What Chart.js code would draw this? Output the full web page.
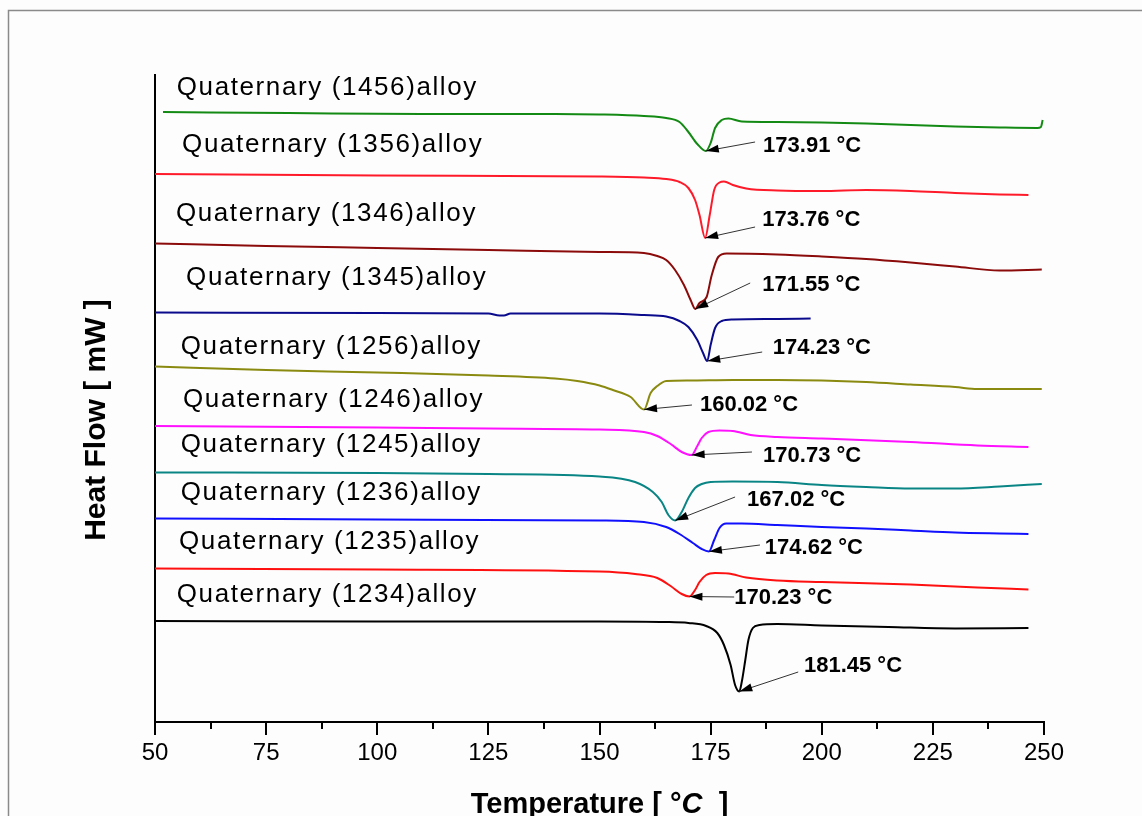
<!DOCTYPE html>
<html>
<head>
<meta charset="utf-8">
<title>DSC curves</title>
<script src="https://cdn.jsdelivr.net/npm/chart.js@4.4.1/dist/chart.umd.min.js"></script>
<style>
  html, body { margin: 0; padding: 0; background: #fff; }
  #wrap { width: 1142px; height: 816px; }
</style>
</head>
<body>
<div id="wrap"><canvas id="dsc"></canvas></div>
<script>
// alloy names, top trace first
const alloys = ['Quaternary (1456)alloy', 'Quaternary (1356)alloy', 'Quaternary (1346)alloy',
  'Quaternary (1345)alloy', 'Quaternary (1256)alloy', 'Quaternary (1246)alloy',
  'Quaternary (1245)alloy', 'Quaternary (1236)alloy', 'Quaternary (1235)alloy', 'Quaternary (1234)alloy'];
const peakTemps = [173.91, 173.76, 171.55, 174.23, 160.02, 170.73, 167.02, 174.62, 170.23, 181.45];
const colors = ['#138a13', '#ff1a2a', '#8b0a0a', '#0a0a8c', '#8a8a10', '#ff10ff', '#0a8585', '#1010ff', '#ff1010', '#000000'];

// temperature (°C) and offset heat flow (mW) for each trace
const t1456 = [51.8, 80, 110, 140, 150, 160, 165, 168, 170, 172, 173.91, 175, 176, 177.5, 179, 182, 190, 200, 210, 220, 230, 240, 248.5, 249.3, 249.7];
const h1456 = [61.0, 60.9, 60.8, 60.8, 60.75, 60.6, 60.4, 60.0, 59.0, 57.8, 57.1, 57.9, 59.4, 60.2, 60.35, 60.05, 60.0, 59.95, 59.85, 59.7, 59.55, 59.45, 59.4, 59.5, 60.2];
const t1356 = [50, 100, 150, 160, 165, 168, 170, 171.5, 172.5, 173.76, 174.8, 175.8, 177, 178, 180, 183, 190, 200, 210, 220, 230, 240, 246.5];
const h1356 = [54.8, 54.65, 54.55, 54.45, 54.3, 54.0, 53.4, 52.2, 50.7, 48.4, 50.7, 53.2, 53.95, 54.05, 53.7, 53.35, 53.15, 53.1, 53.2, 53.1, 52.9, 52.75, 52.7];
const t1346 = [50, 75, 100, 125, 150, 160, 163, 165, 167, 169, 170.5, 171.55, 172.5, 174.1, 175.2, 176.7, 178.6, 190, 200, 210, 220, 230, 240, 249.5];
const h1346 = [47.85, 47.6, 47.4, 47.2, 47.0, 46.9, 46.6, 46.2, 45.2, 43.7, 42.2, 41.3, 41.9, 42.5, 44.6, 46.5, 46.85, 46.75, 46.55, 46.3, 45.95, 45.55, 45.15, 45.25];
const t1345 = [50, 100, 125, 127.5, 128.5, 130, 150, 160, 165, 168, 170, 172, 173.3, 174.23, 175, 176, 177.5, 180, 190, 197.5];
const h1345 = [40.95, 40.9, 40.85, 40.65, 40.65, 40.85, 40.85, 40.7, 40.55, 40.1, 39.5, 38.2, 36.9, 36.1, 37.7, 39.4, 40.1, 40.25, 40.3, 40.35];
const t1256 = [50, 75, 100, 125, 140, 145, 150, 153, 157, 160.02, 161.5, 163, 165, 170, 180, 190, 200, 210, 220, 230, 235, 249.5];
const h1256 = [35.55, 35.2, 34.95, 34.65, 34.35, 34.1, 33.65, 33.2, 32.5, 31.25, 32.9, 33.6, 34.1, 34.15, 34.2, 34.2, 34.15, 34.0, 33.75, 33.5, 33.3, 33.3];
const t1246 = [50, 100, 125, 150, 160, 163, 166, 168.5, 170.73, 172, 173, 174.5, 177, 180, 184, 190, 200, 220, 235, 246.5];
const h1246 = [29.6, 29.45, 29.35, 29.25, 29.0, 28.6, 27.8, 27.0, 26.7, 27.6, 28.4, 29.0, 29.15, 29.1, 28.7, 28.5, 28.35, 28.0, 27.65, 27.5];
const t1245 = [50, 100, 125, 150, 158, 162, 164, 165.5, 167.02, 168.5, 170, 171.5, 173, 175, 180, 190, 200, 210, 220, 230, 240, 249.5];
const h1245 = [24.95, 24.9, 24.8, 24.55, 24.0, 23.0, 22.0, 20.7, 20.15, 21.0, 22.4, 23.4, 23.8, 24.0, 24.05, 24.0, 23.7, 23.5, 23.35, 23.35, 23.55, 23.8];
const t1236 = [50, 100, 150, 160, 165, 168, 171, 173, 174.62, 175.8, 177, 178.5, 182, 190, 200, 210, 220, 230, 240, 246.5];
const h1236 = [20.35, 20.25, 20.15, 20.0, 19.5, 18.8, 17.9, 17.3, 17.05, 18.2, 19.4, 19.85, 19.85, 19.7, 19.5, 19.35, 19.15, 18.95, 18.85, 18.8];
const t1235 = [50, 100, 150, 158, 163, 166, 168.5, 170.23, 171.5, 172.5, 174, 176, 179, 183, 190, 200, 220, 235, 246.5];
const h1235 = [15.35, 15.25, 15.05, 14.8, 14.4, 13.6, 12.8, 12.55, 13.2, 14.0, 14.7, 14.9, 14.85, 14.45, 14.15, 14.0, 13.75, 13.45, 13.25];
const t1234 = [50, 100, 150, 165, 170, 174, 176.5, 178, 179.5, 180.5, 181.45, 182, 182.8, 183.5, 184.5, 186, 190, 200, 215, 230, 246.5];
const h1234 = [10.1, 10.05, 10.05, 10.0, 9.9, 9.6, 8.9, 7.7, 5.7, 3.7, 3.05, 4.0, 6.2, 8.2, 9.4, 9.7, 9.8, 9.65, 9.5, 9.35, 9.4];

const temps = [t1456, t1356, t1346, t1345, t1256, t1246, t1245, t1236, t1235, t1234];
const flows = [h1456, h1356, h1346, h1345, h1256, h1246, h1245, h1236, h1235, h1234];

const xTickLabels = ['50', '75', '100', '125', '150', '175', '200', '225', '250'];

// where the alloy names and peak notes sit, in axis units
const nameAt = [[54.9, 63.4], [56.1, 57.7], [54.7, 50.8], [57.0, 44.4], [55.8, 37.5],
  [56.3, 32.2], [55.8, 27.7], [55.8, 22.9], [55.4, 18.0], [54.9, 12.7]];
const noteAt = [[186.8, 57.6], [186.6, 50.2], [186.6, 43.7], [189.0, 37.4], [172.6, 31.7],
  [186.8, 26.6], [183.2, 22.2], [187.2, 17.4], [180.3, 12.4], [196.0, 5.6]];
const arrowFrom = [[185.0, 58.0], [185.0, 49.5], [183.9, 43.9], [186.6, 37.0], [170.8, 31.7],
  [184.3, 27.0], [180.5, 22.5], [186.1, 17.7], [180.3, 12.5], [194.7, 5.0]];

const datasets = alloys.map((name, i) => ({
  label: name,
  data: temps[i].map((t, k) => ({ x: t, y: flows[i][k] })),
  borderColor: colors[i],
  borderWidth: 2,
  pointRadius: 0,
  fill: false,
  cubicInterpolationMode: 'monotone'
}));

const decor = {
  id: 'decor',
  beforeDraw(chart) {
    const ctx = chart.ctx;
    ctx.save();
    ctx.fillStyle = '#fdfdfd';
    ctx.fillRect(0, 0, chart.width, chart.height);
    ctx.strokeStyle = '#8a8a8a';
    ctx.lineWidth = 1.5;
    ctx.beginPath();
    ctx.moveTo(8.5, chart.height);
    ctx.lineTo(8.5, 10.5);
    ctx.lineTo(chart.width, 10.5);
    ctx.stroke();
    ctx.restore();
  },
  afterDraw(chart) {
    const ctx = chart.ctx;
    const xs = chart.scales.x, ys = chart.scales.y;
    const bottom = chart.chartArea.bottom;
    ctx.save();

    // tick marks, long on labelled values
    ctx.strokeStyle = '#000';
    ctx.lineWidth = 2;
    for (let v = 50; v <= 250; v += 12.5) {
      const px = Math.round(xs.getPixelForValue(v));
      const len = (v % 25 === 0) ? 13 : 7;
      ctx.beginPath();
      ctx.moveTo(px, bottom);
      ctx.lineTo(px, bottom + len);
      ctx.stroke();
    }

    // alloy names
    ctx.fillStyle = '#000';
    ctx.textBaseline = 'middle';
    ctx.textAlign = 'left';
    ctx.font = '26px "Liberation Sans", Arial, sans-serif';
    ctx.letterSpacing = '1.6px';
    alloys.forEach((name, i) => {
      ctx.fillText(name, xs.getPixelForValue(nameAt[i][0]), ys.getPixelForValue(nameAt[i][1]));
    });
    ctx.letterSpacing = '0px';

    // peak arrows and notes
    ctx.font = 'bold 22px "Liberation Sans", Arial, sans-serif';
    peakTemps.forEach((pt, i) => {
      const tipX = xs.getPixelForValue(pt);
      const tipY = ys.getPixelForValue(Math.min(...flows[i]));
      const fx = xs.getPixelForValue(arrowFrom[i][0]);
      const fy = ys.getPixelForValue(arrowFrom[i][1]);
      const ang = Math.atan2(tipY - fy, tipX - fx);
      ctx.strokeStyle = '#333';
      ctx.lineWidth = 1;
      ctx.beginPath();
      ctx.moveTo(fx, fy);
      ctx.lineTo(tipX, tipY);
      ctx.stroke();
      ctx.fillStyle = '#000';
      ctx.beginPath();
      ctx.moveTo(tipX, tipY);
      ctx.lineTo(tipX - 13 * Math.cos(ang) + 4 * Math.sin(ang), tipY - 13 * Math.sin(ang) - 4 * Math.cos(ang));
      ctx.lineTo(tipX - 13 * Math.cos(ang) - 4 * Math.sin(ang), tipY - 13 * Math.sin(ang) + 4 * Math.cos(ang));
      ctx.closePath();
      ctx.fill();
      ctx.fillText(pt.toFixed(2) + ' °C', xs.getPixelForValue(noteAt[i][0]), ys.getPixelForValue(noteAt[i][1]));
    });

    // axis titles
    const cx = (chart.chartArea.left + chart.chartArea.right) / 2;
    const boldF = 'bold 29px "Liberation Sans", Arial, sans-serif';
    const italF = 'italic bold 29px "Liberation Sans", Arial, sans-serif';
    const parts = [['Temperature [ °', boldF], ['C', italF], ['  ]', boldF]];
    let total = 0;
    parts.forEach(p => { ctx.font = p[1]; total += ctx.measureText(p[0]).width; });
    let x = cx - total / 2;
    ctx.textAlign = 'left';
    parts.forEach(p => {
      ctx.font = p[1];
      ctx.fillText(p[0], x, 805);
      x += ctx.measureText(p[0]).width;
    });

    ctx.translate(97, 420);
    ctx.rotate(-Math.PI / 2);
    ctx.textAlign = 'center';
    ctx.font = 'bold 30px "Liberation Sans", Arial, sans-serif';
    ctx.fillText('Heat Flow [ mW ]', 0, 0);
    ctx.restore();
  }
};

new Chart(document.getElementById('dsc'), {
  type: 'line',
  data: { datasets: datasets },
  options: {
    responsive: true,
    maintainAspectRatio: false,
    animation: false,
    layout: { padding: { top: 75, right: 98, left: 0, bottom: 0 } },
    plugins: { legend: { display: false }, tooltip: { enabled: false } },
    scales: {
      x: {
        type: 'linear',
        min: 50,
        max: 250,
        afterFit: s => { s.height = 94; },
        grid: { display: false, drawTicks: false },
        border: { display: true, color: '#000', width: 2 },
        ticks: {
          stepSize: 25,
          padding: 17,
          color: '#000',
          font: { family: '"Liberation Sans", Arial, sans-serif', size: 24 },
          callback: (v, i) => xTickLabels[i]
        }
      },
      y: {
        type: 'linear',
        min: 0,
        max: 64.7,
        afterFit: s => { s.width = 155; },
        grid: { display: false, drawTicks: false },
        border: { display: true, color: '#000', width: 2 },
        ticks: { display: false }
      }
    }
  },
  plugins: [decor]
});
</script>
</body>
</html>
